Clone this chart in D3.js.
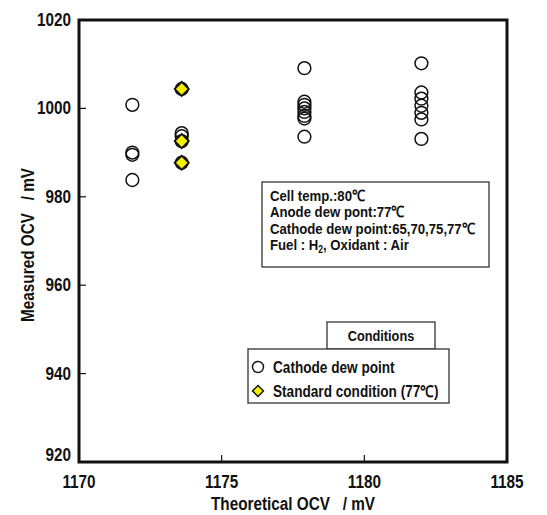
<!DOCTYPE html>
<html>
<head>
<meta charset="utf-8">
<script src="https://cdn.jsdelivr.net/npm/d3@7"></script>
<style>
  body { margin: 0; background: #fff; }
  text { font-family: "Liberation Sans", Arial, sans-serif; font-weight: bold; fill: #111; }
</style>
</head>
<body>
<div id="chart"></div>
<script>
// cathode dew point runs (theoretical OCV, measured OCV)
const cathodeX = [1171.87, 1171.87, 1171.87, 1171.87,
    1173.6, 1173.6, 1173.6, 1173.6, 1173.6,
    1177.9, 1177.9, 1177.9, 1177.9, 1177.9, 1177.9, 1177.9, 1177.9,
    1182.0, 1182.0, 1182.0, 1182.0, 1182.0, 1182.0, 1182.0];
const cathodeY = [1000.8, 990.0, 989.5, 983.8,
    1004.4, 994.4, 993.7, 992.6, 987.7,
    1009.1, 1001.5, 1000.8, 1000.0, 999.2, 998.3, 997.7, 993.6,
    1010.2, 1003.6, 1002.2, 1000.6, 999.0, 997.5, 993.1];

// standard condition (77 C)
const standardX = [1173.6, 1173.6, 1173.6];
const standardY = [1004.4, 992.6, 987.7];

const xTicks = [1170, 1175, 1180, 1185];
const yTicks = [920, 940, 960, 980, 1000, 1020];

const infoLines = ["Cell temp.:80℃", "Anode dew pont:77℃", "Cathode dew point:65,70,75,77℃", "Fuel : H|2|, Oxidant : Air"];

const width = 547, height = 515;
const margin = {top: 20, right: 40, bottom: 53, left: 79};

const svg = d3.select("#chart").append("svg")
    .attr("width", width)
    .attr("height", height);

const x = d3.scaleLinear().domain([1170, 1185]).range([margin.left, width - margin.right]);
const y = d3.scaleLinear().domain([920, 1020]).range([height - margin.bottom, margin.top]);

// inner ticks
svg.append("g").selectAll("line")
    .data(yTicks.slice(1, -1))
    .enter().append("line")
    .attr("x1", x(1170)).attr("x2", x(1170) + 7)
    .attr("y1", d => y(d)).attr("y2", d => y(d))
    .attr("stroke", "#111").attr("stroke-width", 1.2);

svg.append("g").selectAll("line")
    .data(xTicks.slice(1, -1))
    .enter().append("line")
    .attr("x1", d => x(d)).attr("x2", d => x(d))
    .attr("y1", y(920)).attr("y2", y(920) - 7)
    .attr("stroke", "#111").attr("stroke-width", 1.2);

// tick labels
svg.append("g").selectAll("text")
    .data(yTicks)
    .enter().append("text")
    .attr("class", "squeeze")
    .attr("x", x(1170) - 8)
    .attr("y", d => d === 920 ? y(d) - 1 : y(d) + 6)
    .attr("text-anchor", "end")
    .attr("font-size", 18)
    .text(d => d);

svg.append("g").selectAll("text")
    .data(xTicks)
    .enter().append("text")
    .attr("class", "squeeze")
    .attr("x", d => x(d))
    .attr("y", y(920) + 26)
    .attr("text-anchor", "middle")
    .attr("font-size", 18)
    .text(d => d);

// axis titles
svg.append("text")
    .attr("class", "squeeze")
    .attr("x", (x(1170) + x(1185)) / 2)
    .attr("y", 510)
    .attr("text-anchor", "middle")
    .attr("font-size", 18)
    .attr("xml:space", "preserve")
    .text("Theoretical OCV   / mV");

svg.append("text")
    .attr("class", "squeeze")
    .attr("transform", `translate(34, 245) rotate(-90)`)
    .attr("text-anchor", "middle")
    .attr("font-size", 18)
    .attr("xml:space", "preserve")
    .text("Measured OCV   / mV");

// points
const circles = cathodeX.map((d, i) => ({x: d, y: cathodeY[i]}));
svg.append("g").selectAll("circle")
    .data(circles)
    .enter().append("circle")
    .attr("cx", d => x(d.x))
    .attr("cy", d => y(d.y))
    .attr("r", 6.4)
    .attr("fill", "none")
    .attr("stroke", "#111")
    .attr("stroke-width", 1.5);

const diamond = d3.symbol().type(d3.symbolSquare).size(100);
const stds = standardX.map((d, i) => ({x: d, y: standardY[i]}));
svg.append("g").selectAll("path")
    .data(stds)
    .enter().append("path")
    .attr("d", diamond)
    .attr("transform", d => `translate(${x(d.x)},${y(d.y)}) rotate(45)`)
    .attr("fill", "#f6f000")
    .attr("stroke", "#111")
    .attr("stroke-width", 1.8);

// info box
svg.append("rect")
    .attr("x", 262).attr("y", 182).attr("width", 227).attr("height", 85)
    .attr("fill", "#fff").attr("stroke", "#333").attr("stroke-width", 1.3);
const info = svg.append("g")
    .attr("transform", "translate(270,0) scale(0.85,1)");
infoLines.forEach((line, i) => {
    const t = info.append("text")
        .attr("x", 0).attr("y", 201 + i * 16.3)
        .attr("font-size", 15.5);
    const parts = line.split("|");
    parts.forEach((p, j) => {
        const ts = t.append("tspan").text(p);
        if (j === 1) ts.attr("font-size", 10).attr("dy", 3);
        if (j === 2) ts.attr("dy", -3);
    });
});

// legend
const legend = svg.append("g");
legend.append("rect")
    .attr("x", 327).attr("y", 322).attr("width", 108).attr("height", 27)
    .attr("fill", "#fff").attr("stroke", "#333").attr("stroke-width", 1.3);
legend.append("text")
    .attr("class", "squeeze")
    .attr("x", 381).attr("y", 341)
    .attr("text-anchor", "middle")
    .attr("font-size", 15)
    .text("Conditions");
legend.append("rect")
    .attr("x", 248).attr("y", 349).attr("width", 201).attr("height", 54)
    .attr("fill", "#fff").attr("stroke", "#333").attr("stroke-width", 1.3);
legend.append("circle")
    .attr("cx", 258).attr("cy", 367).attr("r", 5.5)
    .attr("fill", "none").attr("stroke", "#111").attr("stroke-width", 1.4);
legend.append("path")
    .attr("d", d3.symbol().type(d3.symbolSquare).size(60))
    .attr("transform", "translate(258,391) rotate(45)")
    .attr("fill", "#f6f000").attr("stroke", "#111").attr("stroke-width", 1.4);
legend.append("text")
    .attr("class", "squeeze")
    .attr("x", 273).attr("y", 373).attr("font-size", 16)
    .text("Cathode dew point");
legend.append("text")
    .attr("class", "squeeze")
    .attr("x", 273).attr("y", 397).attr("font-size", 16)
    .text("Standard condition (77℃)");

// frame
svg.append("rect")
    .attr("x", x(1170)).attr("y", y(1020))
    .attr("width", x(1185) - x(1170)).attr("height", y(920) - y(1020))
    .attr("fill", "none").attr("stroke", "#111").attr("stroke-width", 3);

// the original uses a narrow gothic face, so squeeze the labels a little
svg.selectAll("text.squeeze").each(function() {
    const len = this.getComputedTextLength();
    d3.select(this)
        .attr("textLength", len * 0.85)
        .attr("lengthAdjust", "spacingAndGlyphs");
});
</script>
</body>
</html>
